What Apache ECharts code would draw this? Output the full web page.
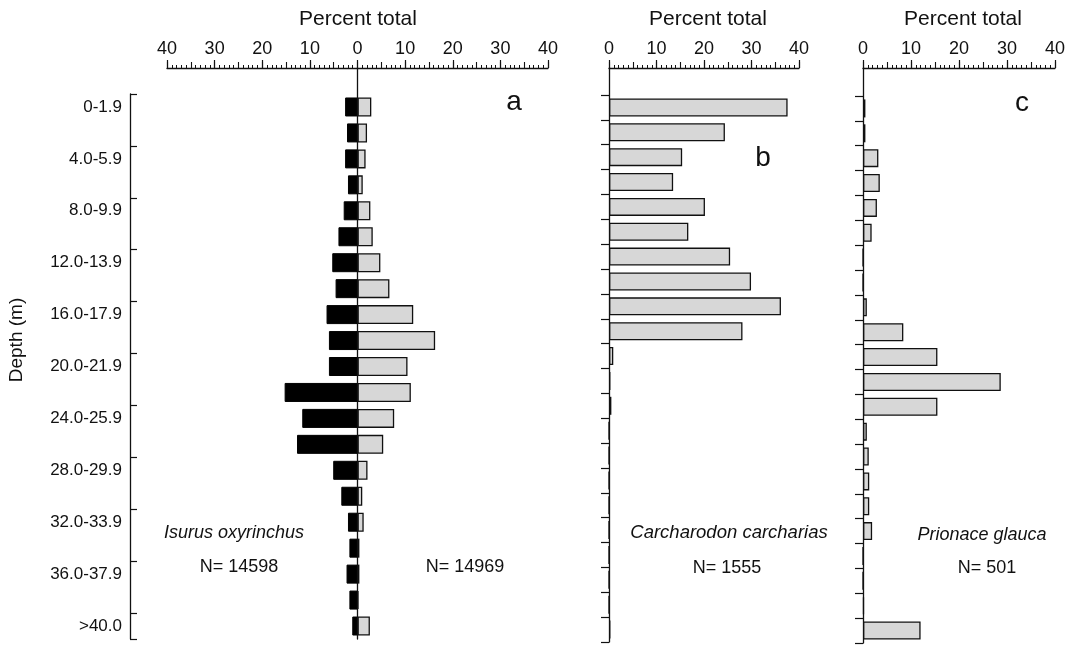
<!DOCTYPE html>
<html>
<head>
<meta charset="utf-8">
<title>Depth distribution</title>
<script src="https://cdn.jsdelivr.net/npm/echarts@6/dist/echarts.min.js"></script>
<style>
  html, body { margin: 0; padding: 0; background: #fff; }
  #chart { width: 1074px; height: 645px; }
</style>
</head>
<body>
<div id="chart"></div>
<script>
// depth classes (m) for panel a, labels every other one
var depthBins = ['0-1.9', '2.0-3.9', '4.0-5.9', '6.0-7.9', '8.0-9.9', '10.0-11.9', '12.0-13.9',
  '14.0-15.9', '16.0-17.9', '18.0-19.9', '20.0-21.9', '22.0-23.9', '24.0-25.9', '26.0-27.9',
  '28.0-29.9', '30.0-31.9', '32.0-33.9', '34.0-35.9', '36.0-37.9', '38.0-39.9', '>40.0'];
// panels b and c are drawn with one more class
var depthBinsBC = ['0-1.9', '2.0-3.9', '4.0-5.9', '6.0-7.9', '8.0-9.9', '10.0-11.9', '12.0-13.9',
  '14.0-15.9', '16.0-17.9', '18.0-19.9', '20.0-21.9', '22.0-23.9', '24.0-25.9', '26.0-27.9',
  '28.0-29.9', '30.0-31.9', '32.0-33.9', '34.0-35.9', '36.0-37.9', '38.0-39.9', '40.0-41.9', '>42.0'];

// a: Isurus oxyrinchus, black bars (left, N=14598) and grey bars (right, N=14969)
var isurusLeft = [2.6, 2.2, 2.6, 2.0, 2.9, 4.0, 5.3, 4.6, 6.5, 6.0, 6.0, 15.3, 11.6, 12.7, 5.1, 3.4, 2.0, 1.7, 2.3, 1.7, 1.1];
var isurusRight = [2.9, 2.0, 1.7, 1.1, 2.7, 3.2, 4.8, 6.7, 11.7, 16.3, 10.5, 11.2, 7.7, 5.4, 2.1, 1.0, 1.3, 0.4, 0.4, 0.2, 2.6];
// b: Carcharodon carcharias, N=1555
var carcharodon = [37.6, 24.4, 15.4, 13.5, 20.2, 16.7, 25.5, 29.9, 36.2, 28.1, 0.9, 0.3, 0.5, 0, 0, 0, 0, 0, 0, 0, 0, 0.3];
// c: Prionace glauca, N=501
var prionace = [0.5, 0.5, 3.2, 3.5, 2.9, 1.8, 0, 0, 0.8, 8.4, 15.5, 28.7, 15.5, 0.8, 1.2, 1.3, 1.3, 1.9, 0, 0, 0.2, 12.0];

var FONT = "'Liberation Sans', Arial, sans-serif";
var INK = '#111';
var GREY = '#d7d7d7';

var chart = echarts.init(document.getElementById('chart'));

// top "Percent total" axis: labels + long ticks at 10, minor ticks at 1
function topAxis(grid, min) {
  return {
    type: 'value', gridIndex: grid, position: 'top', min: min, max: 40, interval: 10,
    axisLine: { show: true, onZero: false, lineStyle: { color: INK, width: 1.3 } },
    axisTick: { show: true, length: 8, lineStyle: { color: INK, width: 1.2 } },
    minorTick: { show: true, splitNumber: 10, length: 3, lineStyle: { color: INK, width: 1 } },
    axisLabel: { show: true, margin: 10, fontSize: 18, color: INK, fontFamily: FONT,
      formatter: function (v) { return Math.abs(v); } },
    splitLine: { show: false }, minorSplitLine: { show: false }
  };
}
// medium ticks at every 5
function midTicks(grid, min) {
  return {
    type: 'value', gridIndex: grid, position: 'top', min: min, max: 40, interval: 5,
    axisLine: { show: false, onZero: false },
    axisTick: { show: true, length: 6, lineStyle: { color: INK, width: 1.1 } },
    axisLabel: { show: false }, splitLine: { show: false }
  };
}
function hiddenX(grid, min) {
  return { type: 'value', gridIndex: grid, min: min, max: 40, show: false,
    axisLine: { onZero: false }, splitLine: { show: false } };
}
// vertical line at 0 running from the top axis down
function zeroLine(grid) {
  return {
    type: 'value', gridIndex: grid, min: 0, max: 1, z: 10,
    axisLine: { show: true, onZero: true, lineStyle: { color: INK, width: 1.3 } },
    axisTick: { show: false }, axisLabel: { show: false }, splitLine: { show: false }
  };
}

var greyStyle = { color: GREY, borderColor: INK, borderWidth: 1.3 };

chart.setOption({
  animation: false,
  backgroundColor: '#fff',
  grid: [
    { left: 167, top: 68, width: 381, height: 571, outerBoundsMode: 'none' },
    { left: 167, top: 94, width: 381, height: 545, outerBoundsMode: 'none' },
    { left: 609, top: 68, width: 190, height: 574, outerBoundsMode: 'none' },
    { left: 609, top: 95, width: 190, height: 547, outerBoundsMode: 'none' },
    { left: 863, top: 68, width: 192, height: 575, outerBoundsMode: 'none' },
    { left: 863, top: 96, width: 192, height: 547, outerBoundsMode: 'none' }
  ],
  xAxis: [
    topAxis(0, -40), midTicks(0, -40), hiddenX(1, -40),
    topAxis(2, 0), midTicks(2, 0), hiddenX(3, 0),
    topAxis(4, 0), midTicks(4, 0), hiddenX(5, 0)
  ],
  yAxis: [
    zeroLine(0),
    {
      type: 'category', gridIndex: 1, data: depthBins, inverse: true, offset: 37,
      axisLine: { show: true, onZero: false, lineStyle: { color: INK, width: 1.3 } },
      axisTick: { show: true, inside: true, length: 7, lineStyle: { color: INK, width: 1.2 } },
      axisLabel: { interval: 1, margin: 8, fontSize: 17, color: INK, fontFamily: FONT }
    },
    zeroLine(2),
    {
      type: 'category', gridIndex: 3, data: depthBinsBC, inverse: true,
      axisLine: { show: false, onZero: false },
      axisTick: { show: true, length: 8, lineStyle: { color: INK, width: 1.2 } },
      axisLabel: { show: false }
    },
    zeroLine(4),
    {
      type: 'category', gridIndex: 5, data: depthBinsBC, inverse: true,
      axisLine: { show: false, onZero: false },
      axisTick: { show: true, length: 8, lineStyle: { color: INK, width: 1.2 } },
      axisLabel: { show: false }
    }
  ],
  series: [
    {
      name: 'Isurus left', type: 'bar', xAxisIndex: 2, yAxisIndex: 1, stack: 'a',
      barWidth: 19, data: isurusLeft.map(function (v) { return -v; }),
      itemStyle: { color: '#000', borderColor: '#000', borderWidth: 1 }
    },
    {
      name: 'Isurus right', type: 'bar', xAxisIndex: 2, yAxisIndex: 1, stack: 'a',
      barWidth: 19, data: isurusRight, itemStyle: greyStyle
    },
    {
      name: 'Carcharodon', type: 'bar', xAxisIndex: 5, yAxisIndex: 3,
      barWidth: 18, data: carcharodon, itemStyle: greyStyle
    },
    {
      name: 'Prionace', type: 'bar', xAxisIndex: 8, yAxisIndex: 5,
      barWidth: 18, data: prionace, itemStyle: greyStyle
    }
  ],
  graphic: [
    txt('Percent total', 358, 19, '21px'),
    txt('Percent total', 708, 19, '21px'),
    txt('Percent total', 963, 19, '21px'),
    txt('a', 514, 102, '28px'),
    txt('b', 763, 158, '28px'),
    txt('c', 1022, 103, '28px'),
    txt('Isurus oxyrinchus', 234, 533, 'italic 18px'),
    txt('N= 14598', 239, 567, '18px'),
    txt('N= 14969', 465, 567, '18px'),
    txt('Carcharodon carcharias', 729, 533, 'italic 18.5px'),
    txt('N= 1555', 727, 568, '18px'),
    txt('Prionace glauca', 982, 535, 'italic 18px'),
    txt('N= 501', 987, 568, '18px'),
    {
      type: 'text', x: 17, y: 340, rotation: Math.PI / 2,
      style: { text: 'Depth (m)', font: '19px ' + FONT, fill: INK,
        textAlign: 'center', textVerticalAlign: 'middle' }
    }
  ]
});

function txt(s, x, y, f) {
  return {
    type: 'text', x: x, y: y,
    style: { text: s, font: f + ' ' + FONT, fill: INK, textAlign: 'center', textVerticalAlign: 'middle' }
  };
}
</script>
</body>
</html>
